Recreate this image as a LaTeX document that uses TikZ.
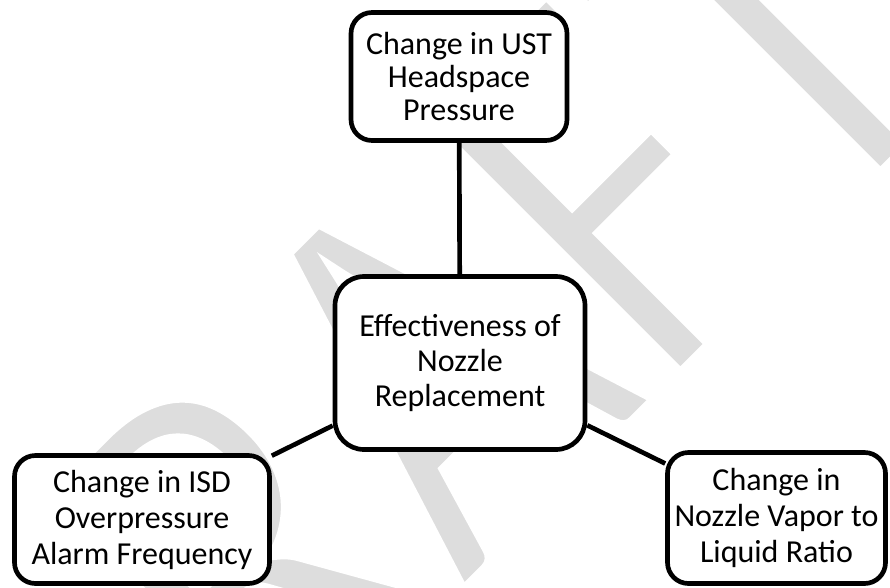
\documentclass[tikz,border=0pt]{standalone}
\usepackage{fontspec}
\setmainfont{Carlito}
\definecolor{wmgray}{RGB}{221,221,221}
\tikzset{box/.style={draw, line width=2.8pt, fill=white, align=center, inner sep=0pt,
    rounded corners=12.6pt, font=\fontsize{19.2}{19.8}\selectfont},
  widebox/.style={box, font=\fontsize{19.2}{21.6}\selectfont}}

\begin{document}
\begin{tikzpicture}[x=0.6pt, y=-0.6pt]
\useasboundingbox (0,0) rectangle (890,587);
\clip (0,0) rectangle (890,587);
% watermark (white outline thins the letters)
\node[rotate=45, xscale=0.84, anchor=base west, inner sep=0pt, text=wmgray,
    font=\fontsize{342}{342}\selectfont] (wm) at (70,986)
    {\special{pdf:literal direct 2 Tr 1 1 1 RG 8 w}DRAFT};
% boxes
\node[box, minimum width=129.6pt, minimum height=76.8pt] (hsp) at (459,76.5) {Change in UST\\Headspace\\Pressure};
\node[box, minimum width=150pt, minimum height=103.8pt, rounded corners=17.4pt,
    font=\fontsize{19.2}{20.8}\selectfont] (eff) at (460,363) {Effectiveness of\\Nozzle\\Replacement};
\node[widebox, minimum width=153pt, minimum height=76.8pt] (isd) at (142,519.5) {Change in ISD\\Overpressure\\Alarm Frequency};
\node[widebox, minimum width=130.8pt, minimum height=78.6pt] (nvr) at (776.5,518) {Change in\\Nozzle Vapor to\\Liquid Ratio};
\draw[line width=2.8pt] (hsp) -- (eff);
\draw[line width=2.8pt] (eff) -- (isd);
\draw[line width=2.8pt] (eff) -- (nvr);
\end{tikzpicture}
\end{document}
